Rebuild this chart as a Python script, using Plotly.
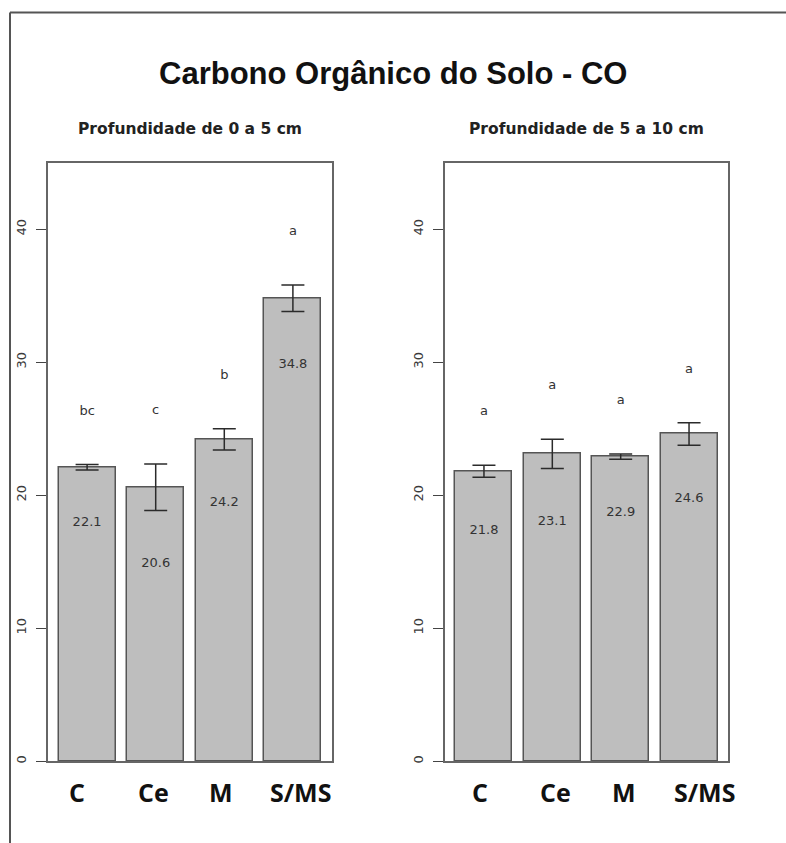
import plotly.graph_objects as go

# Treatments and soil organic carbon means / error half-widths per depth
categories = ["C", "Ce", "M", "S/MS"]
mean_0_5 = [22.1, 20.6, 24.2, 34.8]
err_0_5 = [0.2, 1.75, 0.8, 1.0]
letters_0_5 = ["bc", "c", "b", "a"]

mean_5_10 = [21.8, 23.1, 22.9, 24.6]
err_5_10 = [0.45, 1.1, 0.2, 0.85]
letters_5_10 = ["a", "a", "a", "a"]

y_ticks = [0, 10, 20, 30, 40]

W, H = 786, 843
bar_pos = [0.7, 1.9, 3.1, 4.3]  # barplot midpoints (width 1, space 0.2)
x_range = [0.016, 4.984]
y_range = [0, 45]
LABEL_GAP = 4.0

BAR_FILL = "#bebebe"
BAR_LINE = "#555555"
BOX_LINE = "#666666"
TXT = "#333333"
SMALL_FONT = "DejaVu Sans"


def px_x(p):
    return p / W


def px_y(p):
    return 1 - p / H


panels = [
    dict(means=mean_0_5, errs=err_0_5, letters=letters_0_5,
         title="Profundidade de 0 a 5 cm", dom=[px_x(48), px_x(332)],
         xa="x", ya="y", shifts=[-10, -2, -3, 8]),
    dict(means=mean_5_10, errs=err_5_10, letters=letters_5_10,
         title="Profundidade de 5 a 10 cm", dom=[px_x(445), px_x(728)],
         xa="x2", ya="y2", shifts=[-4, 3, 3, 15]),
]

y_dom = [px_y(763), px_y(163)]

fig = go.Figure()
annotations = []

for i, p in enumerate(panels):
    fig.add_trace(go.Bar(
        x=bar_pos, y=p["means"], width=1.0,
        marker=dict(color=BAR_FILL, line=dict(color=BAR_LINE, width=1.5)),
        error_y=dict(type="data", array=p["errs"], symmetric=True,
                     color="#2b2b2b", thickness=1.5, width=11.5),
        xaxis=p["xa"], yaxis=p["ya"], showlegend=False, hoverinfo="skip",
    ))
    # value labels inside the bars
    fig.add_trace(go.Scatter(
        x=bar_pos, y=[m - e - LABEL_GAP for m, e in zip(p["means"], p["errs"])],
        text=[f"{m:.1f}" for m in p["means"]], mode="text",
        textfont=dict(family=SMALL_FONT, size=13, color=TXT),
        xaxis=p["xa"], yaxis=p["ya"], showlegend=False, hoverinfo="skip",
    ))
    # significance letters above the error bars
    fig.add_trace(go.Scatter(
        x=bar_pos, y=[m + e + LABEL_GAP for m, e in zip(p["means"], p["errs"])],
        text=p["letters"], mode="text",
        textfont=dict(family=SMALL_FONT, size=13, color=TXT),
        xaxis=p["xa"], yaxis=p["ya"], showlegend=False, hoverinfo="skip",
    ))

    # panel subtitle
    annotations.append(dict(
        text=p["title"], xref="paper", yref="paper",
        x=(p["dom"][0] + p["dom"][1]) / 2, y=px_y(129),
        xanchor="center", yanchor="middle", showarrow=False,
        font=dict(family=SMALL_FONT, size=15.5, color="#222222", weight="bold"),
    ))
    # treatment labels under the bars
    for cat, bx, sh in zip(categories, bar_pos, p["shifts"]):
        annotations.append(dict(
            text=cat, xref=p["xa"], yref="paper", x=bx, y=px_y(794),
            xshift=sh, xanchor="center", yanchor="middle", showarrow=False,
            font=dict(family="Open Sans", size=25, color="#111111", weight="bold"),
        ))

# main title
annotations.append(dict(
    text="Carbono Orgânico do Solo - CO", xref="paper", yref="paper",
    x=px_x(393), y=px_y(74), xanchor="center", yanchor="middle",
    showarrow=False,
    font=dict(family="Liberation Sans, Arial", size=31, color="#111111", weight="bold"),
))

xaxis_common = dict(range=x_range, showgrid=False, zeroline=False,
                    showticklabels=False, ticks="", showline=True,
                    linecolor=BOX_LINE, linewidth=1.5, mirror=True,
                    fixedrange=True)
yaxis_common = dict(range=y_range, showgrid=False, zeroline=False,
                    tickvals=y_ticks, ticktext=[str(v) for v in y_ticks],
                    ticks="outside", ticklen=10, tickwidth=1.2,
                    tickcolor="#444444", tickangle=-90, ticklabelstandoff=5,
                    tickfont=dict(family=SMALL_FONT, size=13, color="#3a3a3a"),
                    showline=True, linecolor=BOX_LINE, linewidth=1.5,
                    mirror=True, domain=y_dom, fixedrange=True)

fig.update_layout(
    width=W, height=H,
    margin=dict(l=0, r=0, t=0, b=0),
    paper_bgcolor="white", plot_bgcolor="white",
    xaxis=dict(domain=panels[0]["dom"], anchor="y", **xaxis_common),
    yaxis=dict(anchor="x", **yaxis_common),
    xaxis2=dict(domain=panels[1]["dom"], anchor="y2", **xaxis_common),
    yaxis2=dict(anchor="x2", **yaxis_common),
    annotations=annotations,
    bargap=0,
    shapes=[
        dict(type="line", xref="paper", yref="paper",
             x0=px_x(10), x1=1.01, y0=px_y(12.5), y1=px_y(12.5),
             line=dict(color="#555555", width=2)),
        dict(type="line", xref="paper", yref="paper",
             x0=px_x(10), x1=px_x(10), y0=px_y(12.5), y1=-0.01,
             line=dict(color="#555555", width=2)),
    ],
)

fig.write_html("out.html")
